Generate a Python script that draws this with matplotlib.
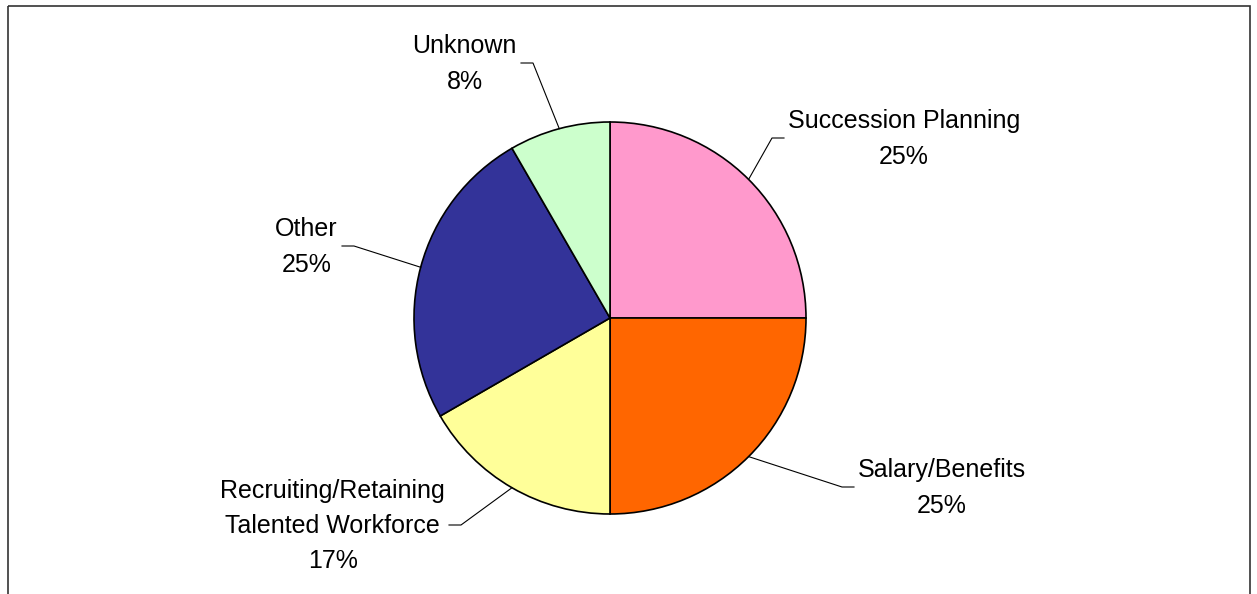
import matplotlib.pyplot as plt
from matplotlib.patches import Rectangle
import numpy as np

# Data
categories = ['Succession Planning', 'Salary/Benefits',
              'Recruiting/Retaining\nTalented Workforce', 'Other', 'Unknown']
counts = [3, 3, 2, 3, 1]
colors = ['#FF99CC', '#FF6600', '#FFFF99', '#333399', '#CCFFCC']

# Layout (pixels, y pointing down): leader elbow for each label
elbows = [(772, 138), (842, 487), (461, 525), (354, 246), (533, 63)]

W, H = 1257, 594
cx, cy, r = 610, 318, 196

plt.rcParams['font.family'] = ['Liberation Sans', 'DejaVu Sans']

fig = plt.figure(figsize=(W / 100, H / 100), dpi=100)
fig.patch.set_facecolor('white')
ax = fig.add_axes([0, 0, 1, 1])

wedges, _ = ax.pie(counts, colors=colors, center=(cx, cy), radius=r,
                   startangle=-90, counterclock=True,
                   wedgeprops=dict(edgecolor='black', linewidth=1.2))
ax.set_xlim(0, W)
ax.set_ylim(H, 0)
ax.set_aspect('equal')
ax.axis('off')

total = sum(counts)
for w, name, n, (ex, ey) in zip(wedges, categories, counts, elbows):
    mid = np.deg2rad((w.theta1 + w.theta2) / 2)
    ax_x = cx + r * np.cos(mid)
    ax_y = cy + r * np.sin(mid)
    side = 1 if ex > cx else -1
    end_x = ex + side * 12
    ax.plot([ax_x, ex, end_x], [ax_y, ey, ey], color='black', lw=0.8)
    ax.text(end_x + side * 4, ey + 1, f'{name}\n{n / total * 100:.0f}%',
            ha='left' if side > 0 else 'right', va='center',
            multialignment='center', fontsize=18, linespacing=1.6)

# chart area border (bottom edge falls outside the picture)
ax.add_patch(Rectangle((7.5, 5.5), 1242, 700, fill=False,
                       edgecolor='#333333', lw=1.2))

fig.savefig('out.png', dpi=100, facecolor='white')
